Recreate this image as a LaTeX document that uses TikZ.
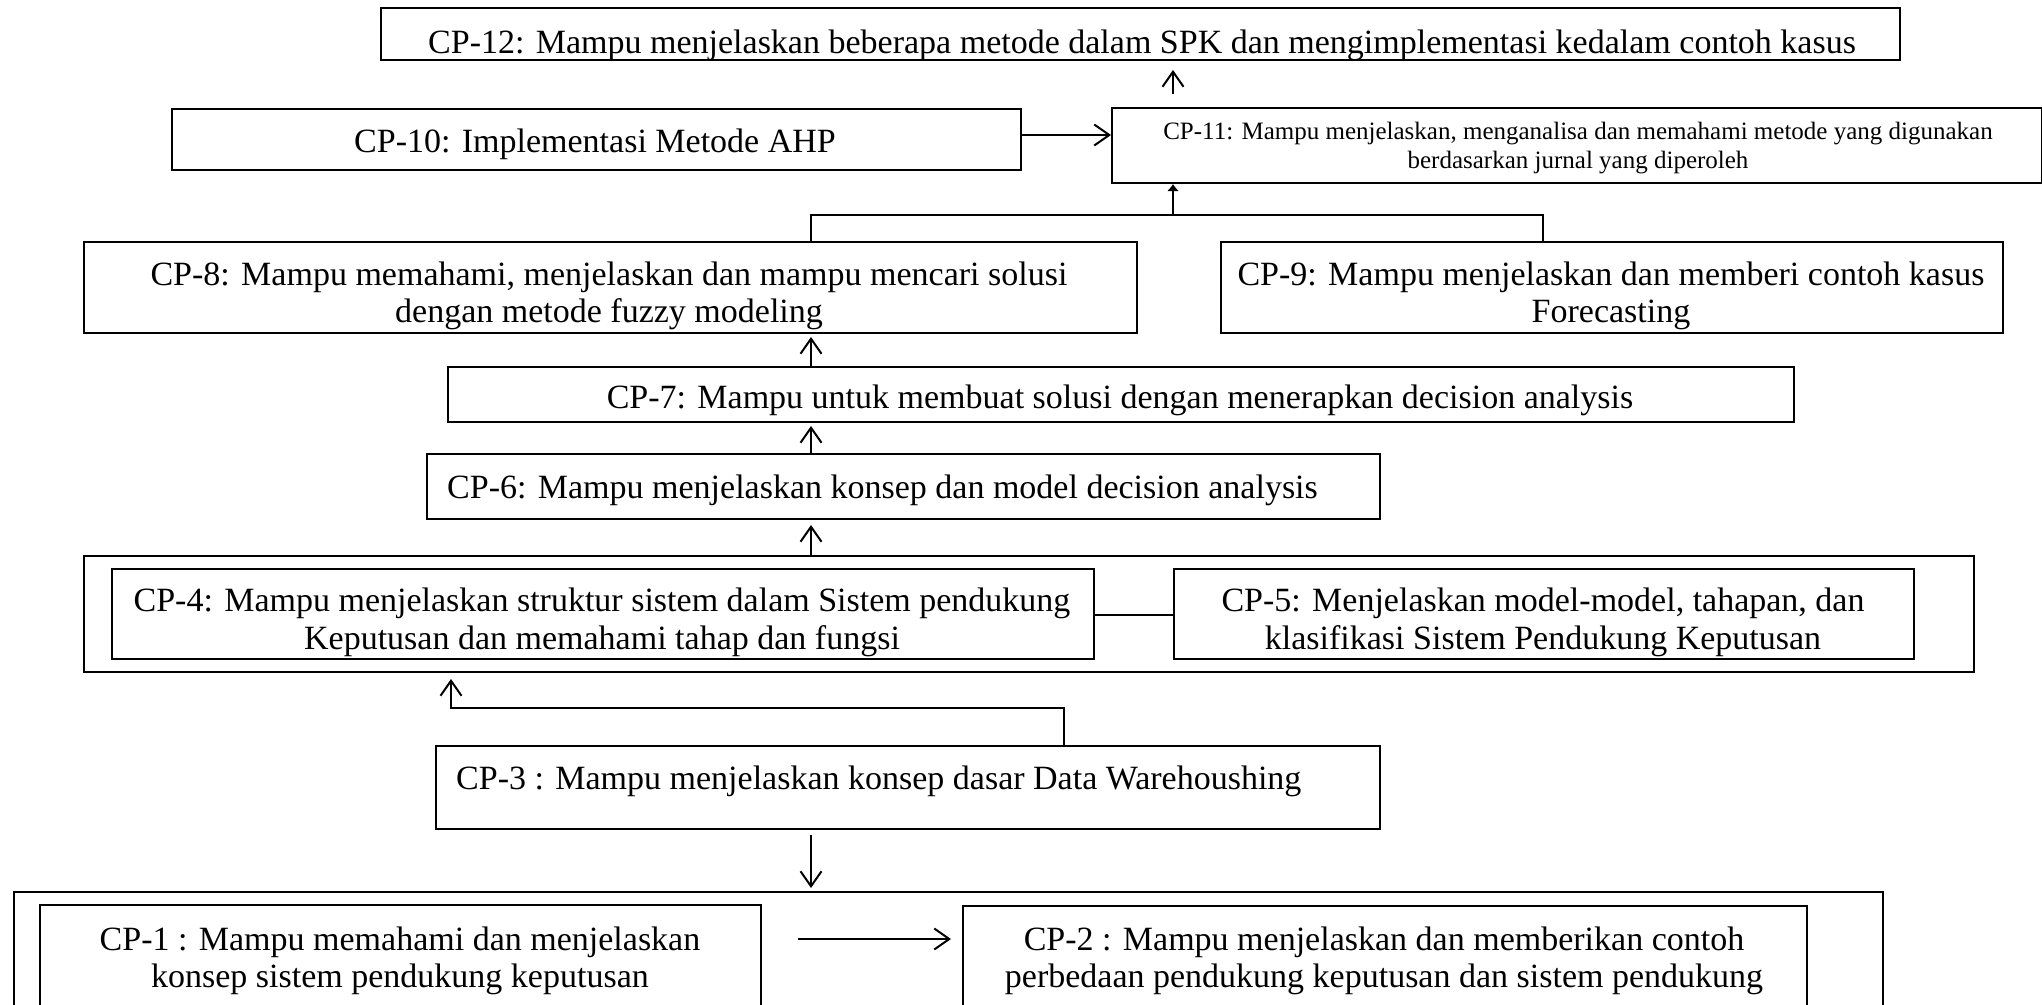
\documentclass[tikz,border=0pt]{standalone}
\usepackage{fontspec}
\setmainfont{Liberation Serif}
\usetikzlibrary{arrows.meta}
\tikzset{
  box/.style={draw, line width=2pt, anchor=north west, inner sep=0pt, fill=white},
  big/.style={font=\fontsize{34}{38}\selectfont, inner sep=0pt, anchor=base},
  small/.style={font=\fontsize{25}{29}\selectfont, inner sep=0pt, anchor=base},
  conn/.style={line width=1.5pt},
  arr/.style={line width=2pt, -{Straight Barb[length=15pt,width=21pt,line width=2pt]}},
}
\begin{document}
\begin{tikzpicture}[x=1pt,y=-1pt]
\useasboundingbox (0,0) rectangle (2042,1004);
\clip (0,0) rectangle (2042,1004);
\fill[white] (0,0) rectangle (2042,1004);

% boxes
\node[box, minimum width=1519pt, minimum height=52pt] (cp12) at (380,7) {};
\node[box, minimum width=849pt, minimum height=61pt] (cp10) at (171,108) {};
\node[box, minimum width=930pt, minimum height=75pt] (cp11) at (1111,107) {};
\node[box, minimum width=1053pt, minimum height=91pt] (cp8) at (83,241) {};
\node[box, minimum width=782pt, minimum height=91pt] (cp9) at (1220,241) {};
\node[box, minimum width=1346pt, minimum height=55pt] (cp7) at (447,366) {};
\node[box, minimum width=953pt, minimum height=65pt] (cp6) at (426,453) {};
\node[box, minimum width=1890pt, minimum height=116pt] (g45) at (83,555) {};
\node[box, minimum width=982pt, minimum height=90pt] (cp4) at (111,568) {};
\node[box, minimum width=740pt, minimum height=90pt] (cp5) at (1173,568) {};
\node[box, minimum width=944pt, minimum height=83pt] (cp3) at (435,745) {};
\node[box, minimum width=1869pt, minimum height=150pt] (g12) at (13,891) {};
\node[box, minimum width=721pt, minimum height=140pt] (cp1) at (39,904) {};
\node[box, minimum width=844pt, minimum height=140pt] (cp2) at (962,905) {};

% texts (clipped to their boxes)
\begin{scope}\clip (cp12.north west) rectangle (cp12.south east);
\node[big] (t12) at (1142,53) {CP-12: Mampu menjelaskan beberapa metode dalam SPK dan mengimplementasi kedalam contoh kasus};
\end{scope}
\begin{scope}\clip (cp10.north west) rectangle (cp10.south east);
\node[big] (t10) at (595,152) {CP-10: Implementasi Metode AHP};
\end{scope}
\begin{scope}\clip (cp11.north west) rectangle (cp11.south east);
\node[small] (t11a) at (1578,139) {CP-11: Mampu menjelaskan, menganalisa dan memahami metode yang digunakan};
\node[small] (t11b) at (1578,168) {berdasarkan jurnal yang diperoleh};
\end{scope}
\begin{scope}\clip (cp8.north west) rectangle (cp8.south east);
\node[big] (t8a) at (609,285) {CP-8: Mampu memahami, menjelaskan dan mampu mencari solusi};
\node[big] (t8b) at (609,322) {dengan metode fuzzy modeling};
\end{scope}
\begin{scope}\clip (cp9.north west) rectangle (cp9.south east);
\node[big] (t9a) at (1611,285) {CP-9: Mampu menjelaskan dan memberi contoh kasus};
\node[big] (t9b) at (1611,322) {Forecasting};
\end{scope}
\begin{scope}\clip (cp7.north west) rectangle (cp7.south east);
\node[big] (t7) at (1120,408) {CP-7: Mampu untuk membuat solusi dengan menerapkan decision analysis};
\end{scope}
\begin{scope}\clip (cp6.north west) rectangle (cp6.south east);
\node[big, anchor=base west] (t6) at (447,498) {CP-6: Mampu menjelaskan konsep dan model decision analysis};
\end{scope}
\begin{scope}\clip (cp4.north west) rectangle (cp4.south east);
\node[big] (t4a) at (602,611) {CP-4: Mampu menjelaskan struktur sistem dalam Sistem pendukung};
\node[big] (t4b) at (602,649) {Keputusan dan memahami tahap dan fungsi};
\end{scope}
\begin{scope}\clip (cp5.north west) rectangle (cp5.south east);
\node[big] (t5a) at (1543,611) {CP-5: Menjelaskan model-model, tahapan, dan};
\node[big] (t5b) at (1543,649) {klasifikasi Sistem Pendukung Keputusan};
\end{scope}
\begin{scope}\clip (cp3.north west) rectangle (cp3.south east);
\node[big, anchor=base west] (t3) at (456,789) {CP-3 : Mampu menjelaskan konsep dasar Data Warehoushing};
\end{scope}
\begin{scope}\clip (cp1.north west) rectangle (cp1.south east);
\node[big] (t1a) at (400,950) {CP-1 : Mampu memahami dan menjelaskan};
\node[big] (t1b) at (400,987) {konsep sistem pendukung keputusan};
\end{scope}
\begin{scope}\clip (cp2.north west) rectangle (cp2.south east);
\node[big] (t2a) at (1384,950) {CP-2 : Mampu menjelaskan dan memberikan contoh};
\node[big] (t2b) at (1384,987) {perbedaan pendukung keputusan dan sistem pendukung};
\end{scope}

% connectors
\draw[arr] ([yshift=13pt]cp11.north -| 1173,0) -- ([yshift=-9pt]cp12.south -| 1173,0);
\draw[arr, line width=2.5pt] (cp10.east |- 0,135) -- (cp11.west |- 0,135);
\coordinate (j89) at (1173,215);
\draw[conn] (cp8.north -| 811,0) |- (j89) -| (cp9.north -| 1543,0);
\draw[line width=2.5pt, -{Latex[length=7pt,width=12pt]}] (j89) -- (cp11.south -| j89);
\draw[arr] (cp7.north -| 811,0) -- ([yshift=-3pt]cp8.south -| 811,0);
\draw[arr] (cp6.north -| 811,0) -- ([yshift=-3pt]cp7.south -| 811,0);
\draw[arr] (g45.north -| 811,0) -- ([yshift=-5pt]cp6.south -| 811,0);
\coordinate (j3) at (1064,708);
\coordinate (k3) at (451,708);
\draw[arr] (cp3.north -| j3) -- (j3) -- (k3) -- ([yshift=-6pt]g45.south -| k3);
\draw[arr] ([yshift=-5pt]cp3.south -| 811,0) -- ([yshift=3pt]g12.north -| 811,0);
\draw[arr] ([xshift=36pt]cp1.east |- 0,939) -- ([xshift=-11pt]cp2.west |- 0,939);
\draw[line width=2.5pt] (cp4.east |- 0,615) -- (cp5.west |- 0,615);
\end{tikzpicture}
\end{document}
